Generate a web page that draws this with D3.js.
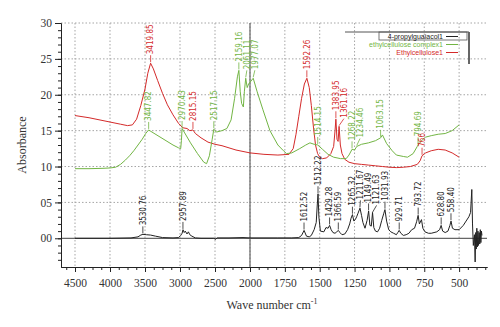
<!DOCTYPE html>
<html>
<head>
<meta charset="utf-8">
<script src="https://cdn.jsdelivr.net/npm/d3@7"></script>
<style>
  body { margin: 0; background: #fff; }
  svg { display: block; }
  .axis text { font-family: "Liberation Serif", "DejaVu Serif", serif; font-size: 11.5px; fill: #333; }
  .axis path, .axis line { stroke: #222; }
  .peak { font-family: "Liberation Sans Narrow", "DejaVu Sans Condensed", "Liberation Sans", sans-serif; font-size: 8px; }
  .legend text { font-family: "Liberation Sans Narrow", "Liberation Sans", sans-serif; font-size: 7px; }
</style>
</head>
<body>
<div id="chart"></div>
<script>
(function(){
    "use strict";

    // spectra, [wave number, absorbance]
    var propylguaiacol = [
        [4500,0],[4000,0],[3700,0.05],[3600,0.2],[3560,0.45],[3530,0.55],[3480,0.5],[3420,0.45],[3350,0.3],
        [3250,0.1],[3100,0.05],[3020,0.1],[2990,0.4],[2970,0.7],[2957,1.2],[2940,0.8],[2925,1.0],[2900,0.6],
        [2880,0.9],[2860,0.5],[2830,0.3],[2780,0.05],[2700,0],[2520,0],[2490,-0.15],[2470,0.05],[2300,0.05],
        [2100,0.1],[2000,0.05],[1800,0.05],[1700,0.05],[1650,0.1],[1630,0.4],[1612,1.1],[1595,0.3],[1575,0.2],
        [1560,0.4],[1540,1.2],[1525,2.2],[1518,4.5],[1512,6.2],[1506,3.0],[1495,1.0],[1470,0.9],[1455,1.5],
        [1440,1.4],[1429,1.8],[1418,1.2],[1405,0.8],[1390,0.7],[1378,0.9],[1366,1.1],[1355,0.8],[1340,0.5],
        [1320,0.6],[1300,1.2],[1285,2.0],[1275,2.8],[1265,3.3],[1255,2.4],[1245,2.6],[1235,3.0],[1225,3.5],
        [1211,4.2],[1200,3.2],[1190,2.2],[1175,1.4],[1160,2.5],[1149,3.8],[1140,1.8],[1130,1.7],[1121,3.6],
        [1112,1.5],[1100,1.0],[1085,0.9],[1070,1.4],[1055,2.5],[1040,3.5],[1032,4.0],[1020,2.4],[1005,1.2],
        [990,0.9],[970,0.7],[950,0.5],[940,0.8],[930,1.1],[918,0.7],[900,0.4],[880,0.5],[860,0.7],[840,1.2],
        [820,1.4],[805,2.3],[794,3.2],[785,2.0],[770,2.6],[760,1.4],[745,0.9],[720,0.7],[700,0.7],[680,0.8],
        [660,0.9],[640,1.2],[629,1.8],[618,1.0],[600,0.8],[580,1.0],[566,1.8],[558,2.4],[548,1.4],[530,1.2],
        [500,1.2],[470,1.8],[450,2.4],[430,3.0],[418,3.6],[409,6.8],[404,2.0],[398,-1.0],[390,0.5],[385,-3.3],
        [381,0.8],[377,-1.5],[373,1.4],[369,-1.2],[365,1.0],[361,-1.0],[356,0.8],[352,-0.8],[348,1.2],
        [344,-0.6],[340,1.0],[336,0.4]
    ];
    var complex = [
        [4500,9.7],[4300,9.7],[4100,9.75],[4000,9.8],[3920,9.9],[3850,10.3],[3780,10.9],[3720,11.5],[3660,12.2],
        [3600,13.0],[3540,13.8],[3490,14.6],[3448,15.1],[3400,14.8],[3300,14.2],[3200,13.6],[3100,13.0],
        [3020,12.6],[2990,12.5],[2980,13.6],[2970,15.3],[2940,14.8],[2850,13.3],[2750,11.8],[2660,10.6],
        [2620,10.4],[2580,11.5],[2540,13.8],[2517,15.2],[2480,14.8],[2400,15.0],[2330,15.3],[2270,16.5],
        [2220,19.5],[2180,22.5],[2159,23.4],[2140,20.5],[2120,18.8],[2095,18.3],[2080,20.5],[2061,22.3],
        [2040,21.0],[2020,21.5],[1977,22.3],[1950,20.5],[1907,17.9],[1857,15.0],[1800,13.0],[1760,12.2],
        [1738,11.8],[1700,11.9],[1643,12.5],[1600,13.0],[1570,13.3],[1540,13.1],[1514,13.0],[1480,12.4],
        [1440,11.7],[1400,11.3],[1350,11.1],[1310,11.1],[1290,11.6],[1268,12.4],[1250,12.3],[1234,12.8],
        [1200,13.1],[1150,13.3],[1100,13.6],[1063,14.0],[1050,14.4],[1020,13.2],[980,12.2],[950,11.6],
        [900,11.4],[870,11.3],[830,11.8],[800,12.8],[786,13.2],[760,13.8],[740,14.1],[700,14.3],[650,14.5],
        [600,14.6],[550,15.0],[500,15.8]
    ];
    var ethylcellulose = [
        [4500,17.1],[4300,16.8],[4100,16.4],[4000,16.2],[3850,15.9],[3750,15.7],[3680,15.8],[3620,16.6],
        [3560,18.5],[3500,20.8],[3460,23.0],[3420,24.4],[3380,23.6],[3320,22.0],[3250,20.2],[3180,18.6],
        [3100,17.2],[3020,16.0],[2960,15.4],[2900,15.3],[2860,15.0],[2815,15.1],[2780,14.6],[2700,14.0],
        [2600,13.4],[2500,13.1],[2400,12.9],[2300,12.6],[2200,12.3],[2100,12.1],[2000,11.9],[1900,11.7],
        [1800,11.6],[1720,11.7],[1690,12.5],[1670,14.5],[1650,17.0],[1630,19.5],[1610,21.5],[1592,22.3],
        [1575,21.0],[1560,18.5],[1545,15.5],[1530,13.0],[1515,11.8],[1500,11.3],[1480,11.1],[1450,11.2],
        [1420,11.8],[1400,12.8],[1390,15.0],[1384,16.6],[1376,13.8],[1368,13.5],[1361,15.6],[1352,13.0],
        [1340,11.8],[1320,11.0],[1290,10.6],[1250,10.4],[1200,10.3],[1150,10.2],[1100,10.1],[1050,10.0],
        [1000,9.9],[950,9.85],[900,9.9],[850,10.0],[800,10.3],[780,10.8],[766,11.5],[740,11.9],[700,12.2],
        [650,12.4],[600,12.3],[550,11.9],[500,11.3]
    ];

    // peak labels
    var blackPeaks = ["3530.76","2957.89","1612.52","1512.22","1429.28","1366.59","1265.32","1211.67",
        "1149.49","1121.63","1031.93","929.71","793.72","628.80","558.40"];
    var greenPeaks = ["3447.82","2970.43","2517.15","2159.16","2061.11","1977.07","1514.15","1268.22",
        "1234.46","1063.15","794.69"];
    var redPeaks = ["3419.85","2815.15","1592.26","1383.95","1361.16","766"];

    var xTicks = [4500,4000,3500,3000,2500,2000,1750,1500,1250,1000,750,500];
    var yTicks = [0,5,10,15,20,25,30];
    var legendNames = ["4-propylguaiacol1","ethylcellulose complex1","Ethylcellulose1"];

    var colors = ["#222", "#72b544", "#d42a2a"];

    var width = 500, height = 327;
    var svg = d3.select("#chart").append("svg")
        .attr("width", width)
        .attr("height", height);

    // broken axis: 500 per step left of 2000, 250 per step right of it
    var x = d3.scaleLinear().domain([4700, 2000, 300]).range([61, 250, 487]);
    var y = d3.scaleLinear().domain([-4, 30]).range([267, 23]);

    // grid
    svg.append("g").selectAll("line")
        .data(yTicks.filter(function(d) { return d > 0; }))
        .enter().append("line")
        .attr("x1", x(4700)).attr("x2", x(300))
        .attr("y1", function(d) { return y(d); })
        .attr("y2", function(d) { return y(d); })
        .attr("stroke", "#a5a5a5").attr("stroke-dasharray", "1.5,2");
    svg.append("g").selectAll("line")
        .data(xTicks)
        .enter().append("line")
        .attr("x1", function(d) { return x(d); })
        .attr("x2", function(d) { return x(d); })
        .attr("y1", y(30)).attr("y2", y(-4))
        .attr("stroke", "#a5a5a5").attr("stroke-dasharray", "1.5,2");

    // zero line and the break at 2000
    svg.append("line")
        .attr("x1", x(4700)).attr("x2", x(300))
        .attr("y1", y(0)).attr("y2", y(0))
        .attr("stroke", "#666").attr("stroke-width", 1.2);
    svg.append("line")
        .attr("x1", x(2000)).attr("x2", x(2000))
        .attr("y1", y(30)).attr("y2", y(-4))
        .attr("stroke", "#666").attr("stroke-width", 1.2);

    // axes
    var minorX = d3.range(4625, 2000, -125).concat(d3.range(1937.5, 300, -62.5))
        .filter(function(d) { return xTicks.indexOf(d) < 0; });
    svg.append("g").attr("class", "axis")
        .attr("transform", "translate(0," + y(-4) + ")")
        .call(d3.axisBottom(x).tickValues(minorX).tickSize(3).tickSizeOuter(0).tickFormat(""));
    svg.append("g").attr("class", "axis")
        .attr("transform", "translate(0," + y(-4) + ")")
        .call(d3.axisBottom(x).tickValues(xTicks).tickSize(5).tickSizeOuter(0).tickFormat(d3.format("d")))
        .selectAll("text").attr("dy", "1.05em");

    svg.append("g").attr("class", "axis")
        .attr("transform", "translate(" + x(4700) + ",0)")
        .call(d3.axisLeft(y).tickValues(d3.range(-3, 31)).tickSize(3).tickSizeOuter(0).tickFormat(""));
    svg.append("g").attr("class", "axis")
        .attr("transform", "translate(" + x(4700) + ",0)")
        .call(d3.axisLeft(y).tickValues(yTicks).tickSize(6).tickSizeOuter(0).tickFormat(d3.format("02d")));

    // axis titles
    svg.append("text")
        .attr("transform", "translate(26," + ((y(30) + y(-4)) / 2) + ") rotate(-90)")
        .attr("text-anchor", "middle")
        .style("font-family", "'Liberation Serif', serif")
        .style("font-size", "12px").style("fill", "#333")
        .text("Absorbance");
    var xt = svg.append("text")
        .attr("x", 272).attr("y", 309)
        .attr("text-anchor", "middle")
        .style("font-family", "'Liberation Serif', serif")
        .style("font-size", "12px").style("fill", "#333");
    xt.append("tspan").text("Wave number cm");
    xt.append("tspan").attr("dy", -5).style("font-size", "8px").text("-1");

    // spectra
    var line = d3.line()
        .x(function(d) { return x(d[0]); })
        .y(function(d) { return y(d[1]); });
    var series = [propylguaiacol, complex, ethylcellulose];
    [2, 1, 0].forEach(function(i) {
        svg.append("path")
            .datum(series[i])
            .attr("fill", "none")
            .attr("stroke", colors[i])
            .attr("stroke-width", 1)
            .attr("d", line);
    });

    // value of a series at a wave number
    function valueAt(data, wn) {
        for (var i = 1; i < data.length; i++) {
            var a = data[i - 1], b = data[i];
            if (wn <= a[0] && wn >= b[0]) {
                var t = (a[0] - wn) / (a[0] - b[0]);
                return a[1] + t * (b[1] - a[1]);
            }
        }
        return 0;
    }

    // peak labels, pushed apart when they crowd
    function drawPeaks(labels, data, color) {
        var items = labels.map(function(l) {
            var wn = +l;
            return { text: l, px: x(wn), lx: x(wn), py: y(valueAt(data, wn)) };
        });
        for (var i = 1; i < items.length; i++) {
            if (items[i].lx - items[i - 1].lx < 8) items[i].lx = items[i - 1].lx + 8;
        }
        var g = svg.append("g").attr("class", "peak");
        items.forEach(function(d) {
            g.append("line")
                .attr("x1", d.px).attr("y1", d.py - 1)
                .attr("x2", d.lx).attr("y2", d.py - 8)
                .attr("stroke", color).attr("stroke-width", 0.8);
            g.append("text")
                .attr("transform", "translate(" + (d.lx + 2.8) + "," + (d.py - 9) + ") rotate(-90)")
                .style("fill", color)
                .text(d.text);
        });
    }
    drawPeaks(blackPeaks, propylguaiacol, colors[0]);
    drawPeaks(greenPeaks, complex, colors[1]);
    drawPeaks(redPeaks, ethylcellulose, colors[2]);

    // legend
    var lg = svg.append("g").attr("class", "legend");
    lg.append("line").attr("x1", 345).attr("x2", 469).attr("y1", 32).attr("y2", 32)
        .attr("stroke", "#555");
    lg.append("rect").attr("x", 379).attr("y", 32).attr("width", 88).attr("height", 8)
        .attr("fill", "none").attr("stroke", "#555").attr("stroke-width", 0.8);
    lg.append("line").attr("x1", 469).attr("x2", 469).attr("y1", 32).attr("y2", 64)
        .attr("stroke", "#666").attr("stroke-width", 2);
    legendNames.forEach(function(name, i) {
        lg.append("text")
            .attr("x", 443).attr("y", 39 + i * 8)
            .attr("text-anchor", "end")
            .style("fill", colors[i])
            .text(name);
        lg.append("line")
            .attr("x1", 446).attr("x2", 458)
            .attr("y1", 36.5 + i * 8).attr("y2", 36.5 + i * 8)
            .attr("stroke", colors[i]);
    });
})();
</script>
</body>
</html>
